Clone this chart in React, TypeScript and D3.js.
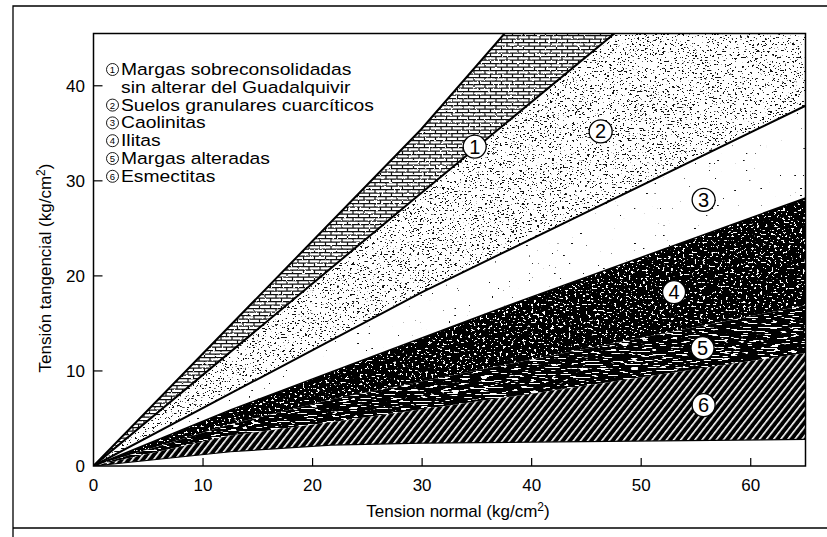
import React from 'react';
import * as d3 from 'd3';

// ---- data ----
const X_TICKS = [0, 10, 20, 30, 40, 50, 60];
const Y_TICKS = [0, 10, 20, 30, 40];

// boundary envelopes, [normal stress, shear stress] in kg/cm2
const lineA: [number, number][] = [[0, 0], [29.9, 35.4], [37.6, 45.6], [65, 79]];
const lineB: [number, number][] = [[0, 0], [29.9, 28.7], [65, 62.1]];
const lineC: [number, number][] = [[0, 0], [30, 18.3], [65, 37.9]];
const lineD: [number, number][] = [[0, 0], [12.5, 5.9], [21.7, 9.9], [39.3, 17.5], [65, 28.2]];
const line45: [number, number][] = [[0, 0], [12.5, 4.4], [21.7, 7.0], [40, 11.2], [65, 16.9]];
const line56: [number, number][] = [[0, 0], [12.5, 3.2], [21.7, 4.6], [40, 7.6], [65, 11.9]];
const lineBottom: [number, number][] = [[0, 0], [12.5, 1.5], [21.7, 2.2], [30, 2.4], [47, 2.6], [65, 2.8]];

const BAND_IDS = ['1', '2', '3', '4', '5', '6'];
const BAND_UPPER = [lineA, lineB, lineC, lineD, line45, line56];
const BAND_LOWER = [lineB, lineC, lineD, line45, line56, lineBottom];
const LABEL_X = [34.8, 46.3, 55.7, 53.0, 55.6, 55.7];
const LABEL_Y = [33.6, 35.2, 28.0, 18.3, 12.4, 6.4];

const LEGEND_NUMBERS = ['1', '', '2', '3', '4', '5', '6'];
const LEGEND_LABELS = [
  'Margas sobreconsolidadas',
  'sin alterar del Guadalquivir',
  'Suelos granulares cuarcíticos',
  'Caolinitas',
  'Ilitas',
  'Margas alteradas',
  'Esmectitas',
];

const W = 827;
const H = 537;
const FONT = "'Liberation Sans', Arial, Helvetica, sans-serif";

const xs = d3.scaleLinear().domain([0, 65]).range([93.5, 805.5]);
const ys = d3.scaleLinear().domain([0, 45.5]).range([466, 33.5]);

const lineGen = d3.line<[number, number]>().x(d => xs(d[0])).y(d => ys(d[1]));

function Speck(props: { id: string; freq: string; seed: number; threshold: number; color: string; octaves?: number }) {
  const { id, freq, seed, threshold, color, octaves = 2 } = props;
  return (
    <filter id={id} x="0" y="0" width="1" height="1" colorInterpolationFilters="sRGB">
      <feTurbulence type="fractalNoise" baseFrequency={freq} numOctaves={octaves} seed={seed} result="n" />
      <feColorMatrix in="n" type="matrix" values="0 0 0 0 0  0 0 0 0 0  0 0 0 0 0  1 0 0 0 0" result="a" />
      <feComponentTransfer in="a" result="t">
        <feFuncA type="linear" slope={30} intercept={-30 * threshold} />
      </feComponentTransfer>
      <feFlood floodColor={color} result="c" />
      <feComposite in="c" in2="t" operator="in" result="sp" />
      <feComposite in="sp" in2="SourceAlpha" operator="in" result="spc" />
      <feMerge>
        <feMergeNode in="SourceGraphic" />
        <feMergeNode in="spc" />
      </feMerge>
    </filter>
  );
}

const BAND_FILL = ['url(#brick)', '#fff', '#fff', '#000', '#000', 'url(#hatch)'];
const BAND_FILTER = ['url(#f1)', 'url(#f2)', 'url(#f3)', 'url(#f4)', 'url(#f5)', ''];

export default function App() {
  const plotL = xs(0), plotR = xs(65), plotT = ys(45.5), plotB = ys(0);
  return (
    <svg width={W} height={H} style={{ position: 'absolute', left: 0, top: 0, background: '#fff' }}
      fontFamily={FONT}>
      <defs>
        <clipPath id="plot">
          <rect x={plotL} y={plotT} width={plotR - plotL} height={plotB - plotT} />
        </clipPath>
        <pattern id="brick" patternUnits="userSpaceOnUse" width={11} height={7}>
          <rect width={11} height={7} fill="#fff" />
          <path d="M0 0.6H11M0 4.1H11M1 0.6V4.1M6.5 4.1V7" stroke="#111" strokeWidth={1.2} fill="none" />
        </pattern>
        <pattern id="hatch" patternUnits="userSpaceOnUse" width={5.6} height={10} patternTransform="rotate(38)">
          <rect width={5.6} height={10} fill="#000" />
          <rect x={0} width={1.6} height={10} fill="#fff" />
        </pattern>
        <Speck id="f1" freq="0.45 0.6" seed={4} threshold={0.66} color="#fff" />
        <Speck id="f2" freq="0.4 0.7" seed={7} threshold={0.63} color="#111" />
        <Speck id="f3" freq="0.35 0.6" seed={11} threshold={0.74} color="#111" octaves={1} />
        <Speck id="f4" freq="0.35 0.5" seed={3} threshold={0.63} color="#fff" />
        <Speck id="f5" freq="0.1 0.7" seed={5} threshold={0.6} color="#fff" />
      </defs>

      {/* outer frame */}
      <path d={`M13 ${H}V6H${W}`} fill="none" stroke="#000" strokeWidth={1.3} />
      <line x1={13} x2={W} y1={528} y2={528} stroke="#000" strokeWidth={1.3} />

      {/* bands */}
      <g clipPath="url(#plot)">
        {BAND_IDS.map((id, i) => {
          const pts = [...BAND_UPPER[i], ...BAND_LOWER[i].slice().reverse()];
          return (
            <path key={id} d={lineGen(pts) + 'Z'} fill={BAND_FILL[i]}
              filter={BAND_FILTER[i] || undefined} />
          );
        })}
        {[lineA, lineB, lineC].map((l, i) => (
          <path key={'l' + i} d={lineGen(l) || ''} fill="none" stroke="#000" strokeWidth={2} />
        ))}
        <path d={lineGen(lineD) || ''} fill="none" stroke="#000" strokeWidth={1.5} />
        <path d={lineGen(lineBottom) || ''} fill="none" stroke="#000" strokeWidth={1.2} />
      </g>

      {/* plot frame */}
      <rect x={plotL} y={plotT} width={plotR - plotL} height={plotB - plotT} fill="none" stroke="#000" strokeWidth={1.5} />

      {/* x axis ticks */}
      {X_TICKS.map(t => (
        <g key={'x' + t}>
          {t > 0 && <line x1={xs(t)} x2={xs(t)} y1={plotB} y2={plotB - 8} stroke="#000" strokeWidth={1.2} />}
          <text x={xs(t)} y={491} textAnchor="middle" fontSize={17}>{t}</text>
        </g>
      ))}
      {/* y axis ticks */}
      {Y_TICKS.map(t => (
        <g key={'y' + t}>
          {t > 0 && <line x1={plotL} x2={plotL + 9} y1={ys(t)} y2={ys(t)} stroke="#000" strokeWidth={1.2} />}
          <text x={85} y={ys(t) + 6} textAnchor="end" fontSize={17}>{t}</text>
        </g>
      ))}

      {/* axis titles */}
      <text x={458} y={517} textAnchor="middle" fontSize={17}>
        Tension normal (kg/cm<tspan fontSize={12} dy={-6}>2</tspan><tspan dy={6}>)</tspan>
      </text>
      <text transform="translate(51,268) rotate(-90)" textAnchor="middle" fontSize={17}>
        Tensión tangencial (kg/cm<tspan fontSize={12} dy={-6}>2</tspan><tspan dy={6}>)</tspan>
      </text>

      {/* band labels */}
      {BAND_IDS.map((id, i) => (
        <g key={'lab' + id}>
          <circle cx={xs(LABEL_X[i])} cy={ys(LABEL_Y[i])} r={11.5} fill="#fff" stroke="#000" strokeWidth={1.3} />
          <text x={xs(LABEL_X[i])} y={ys(LABEL_Y[i]) + 7} textAnchor="middle" fontSize={20}>{id}</text>
        </g>
      ))}

      {/* legend */}
      {LEGEND_LABELS.map((lab, i) => {
        const by = 75 + i * 17.8;
        return (
          <g key={'lg' + i}>
            {LEGEND_NUMBERS[i] && (
              <g>
                <circle cx={112.5} cy={by - 5.5} r={6} fill="#fff" stroke="#000" strokeWidth={0.9} />
                <text x={112.5} y={by - 2} textAnchor="middle" fontSize={9.5}>{LEGEND_NUMBERS[i]}</text>
              </g>
            )}
            <text transform={`translate(121,${by}) scale(1.17,1)`} fontSize={16.5}>{lab}</text>
          </g>
        );
      })}
    </svg>
  );
}
